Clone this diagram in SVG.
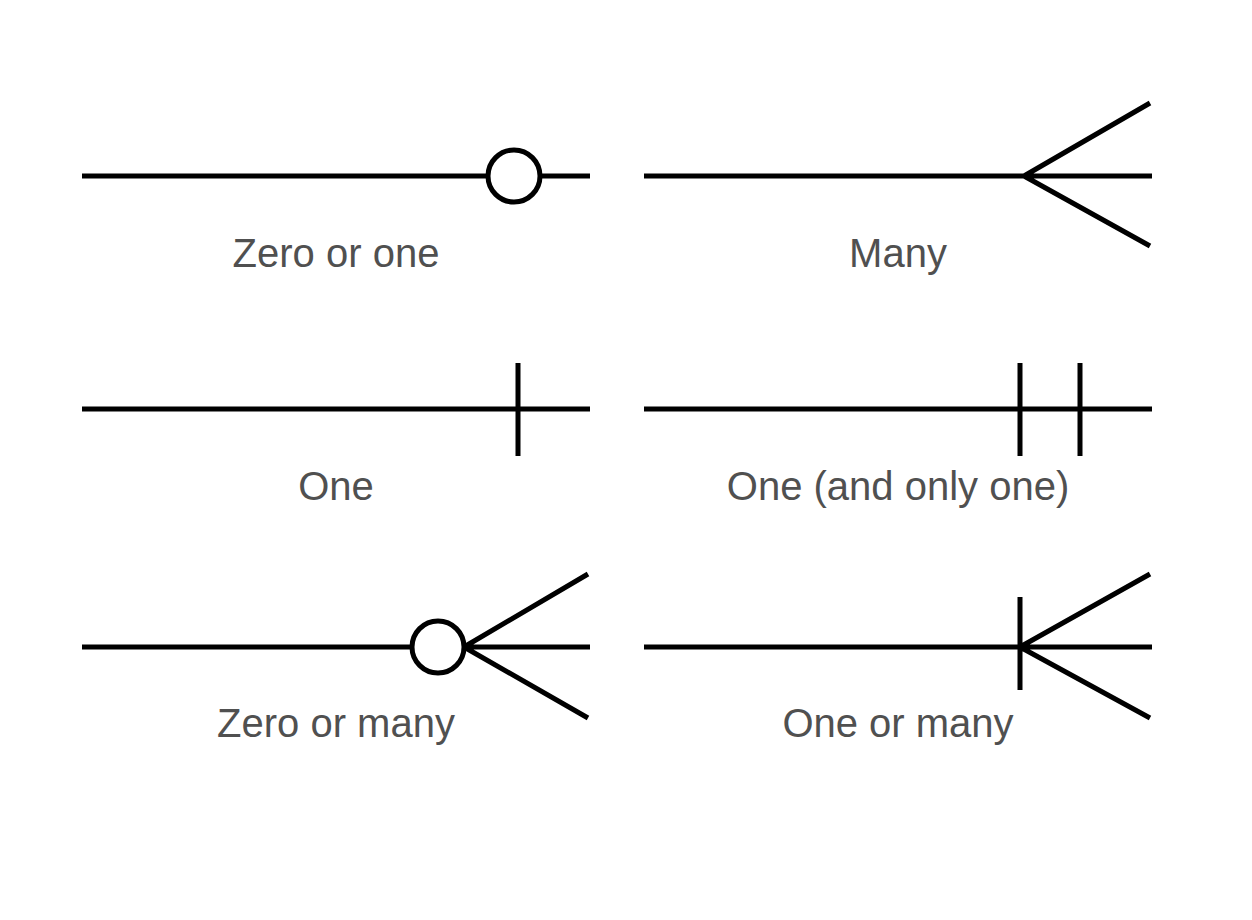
<svg xmlns="http://www.w3.org/2000/svg" width="1252" height="920" viewBox="0 0 1252 920">
<style>
.l{stroke:#000;stroke-width:5;fill:none}
.t{font-family:"Liberation Sans",Arial,sans-serif;font-size:40px;fill:#505050;text-anchor:middle}
</style>
<rect width="1252" height="920" fill="#fff"/>
<g id="zero-or-one"><path class="l" d="M82 176H488M540 176H590"/><circle class="l" cx="514" cy="176" r="26"/><text class="t" x="336" y="267">Zero or one</text></g>
<g id="many"><path class="l" d="M644 176H1152M1024 176L1150 103M1024 176L1150 246"/><text class="t" x="898" y="267">Many</text></g>
<g id="one"><path class="l" d="M82 409H590M518 363V456"/><text class="t" x="336" y="500">One</text></g>
<g id="one-only"><path class="l" d="M644 409H1152M1020 363V456M1080 363V456"/><text class="t" x="898" y="500">One (and only one)</text></g>
<g id="zero-or-many"><path class="l" d="M82 647H412M464 647H590M464 647L588 574M464 647L588 718"/><circle class="l" cx="438" cy="647" r="26"/><text class="t" x="336" y="737">Zero or many</text></g>
<g id="one-or-many"><path class="l" d="M644 647H1152M1020 597V690M1020 647L1150 574M1020 647L1150 718"/><text class="t" x="898" y="737">One or many</text></g>
<g id="connectors"/>
</svg>
